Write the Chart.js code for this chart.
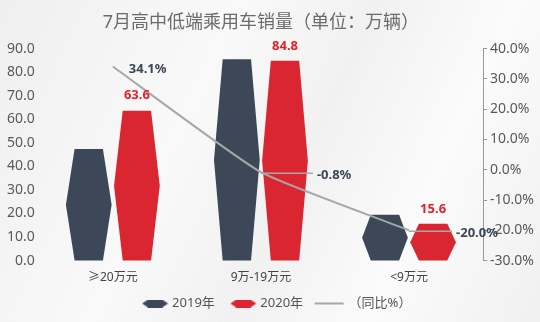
<!DOCTYPE html>
<html>
<head>
<meta charset="utf-8">
<script src="https://cdn.jsdelivr.net/npm/chart.js@4.4.1/dist/chart.umd.min.js"></script>
<style>
  html, body { margin: 0; padding: 0; }
  body {
    width: 540px;
    height: 322px;
    background: linear-gradient(115deg, #efefef 0%, #f9f9f9 35%, #f1f1f1 55%, #fbfbfb 75%, #f0f0f0 100%);
  }
  canvas { display: block; }
</style>
</head>
<body>
<canvas id="chart" width="540" height="322"></canvas>
<script>
// Sales by price band (万辆) and year-on-year change (%)
const categories = ["≥20万元", "9万-19万元", "<9万元"];
const sales2019 = [47.4, 85.5, 19.5];
const sales2020 = [63.6, 84.8, 15.6];
const yoyChange = [34.1, -0.8, -20.0];

const DARK = "#3c4757";
const RED = "#d92631";
const GREY = "#a7a7a7";

Chart.defaults.font.family = '"Noto Sans", "Noto Sans CJK SC", sans-serif';
Chart.defaults.color = "#595959";

// Hexagon path: flat top and bottom, pointed at the sides
function hexPath(ctx, left, right, top, bottom, inset) {
  const mid = (top + bottom) / 2;
  ctx.beginPath();
  ctx.moveTo(left + inset, top);
  ctx.lineTo(right - inset, top);
  ctx.lineTo(right, mid);
  ctx.lineTo(right - inset, bottom);
  ctx.lineTo(left + inset, bottom);
  ctx.lineTo(left, mid);
  ctx.closePath();
}

// Legend icons; the blank left part of each canvas spaces the items apart
function hexIcon(color) {
  const c = document.createElement("canvas");
  c.width = 46;
  c.height = 8;
  const g = c.getContext("2d");
  g.fillStyle = color;
  hexPath(g, 18, 44, 0, 8, 6);
  g.fill();
  return c;
}
function lineIcon(color) {
  const c = document.createElement("canvas");
  c.width = 46;
  c.height = 8;
  const g = c.getContext("2d");
  g.strokeStyle = color;
  g.lineWidth = 2;
  g.beginPath();
  g.moveTo(14, 4);
  g.lineTo(43, 4);
  g.stroke();
  return c;
}
const icons = [hexIcon(DARK), hexIcon(RED), lineIcon(GREY)];

// Draw bars as hexagons instead of rectangles
const hexBars = {
  id: "hexBars",
  beforeDatasetDraw(chart, args) {
    const meta = args.meta;
    if (meta.type !== "bar") return;
    const ctx = chart.ctx;
    meta.data.forEach((bar) => {
      const { x, y, base, width } = bar.getProps(["x", "y", "base", "width"], true);
      ctx.save();
      ctx.fillStyle = bar.options.backgroundColor;
      hexPath(ctx, x - width / 2, x + width / 2, y, base, width * 0.19);
      ctx.fill();
      ctx.restore();
    });
    return false;
  },
};

// Value labels: red numbers over 2020 bars, percentages on the line
const lineLabelLayout = [
  { dx: 16, leader: 0 },
  { dx: 56, leader: 52 },
  { dx: 47, leader: 43 },
];
const valueLabels = {
  id: "valueLabels",
  afterDatasetsDraw(chart) {
    const ctx = chart.ctx;
    ctx.save();

    const redMeta = chart.getDatasetMeta(1);
    ctx.font = 'bold 13px "Noto Sans", sans-serif';
    ctx.fillStyle = "#e1222b";
    ctx.textAlign = "center";
    ctx.textBaseline = "middle";
    redMeta.data.forEach((bar, i) => {
      ctx.fillText(sales2020[i].toFixed(1), bar.x, bar.y - 15);
    });

    const lineMeta = chart.getDatasetMeta(2);
    ctx.textAlign = "left";
    ctx.fillStyle = "#3d4655";
    ctx.strokeStyle = GREY;
    ctx.lineWidth = 1.5;
    lineMeta.data.forEach((pt, i) => {
      const lay = lineLabelLayout[i];
      if (lay.leader > 0) {
        ctx.beginPath();
        ctx.moveTo(pt.x, pt.y + 1);
        ctx.lineTo(pt.x + lay.leader, pt.y + 1);
        ctx.stroke();
      }
      ctx.fillText(yoyChange[i].toFixed(1) + "%", pt.x + lay.dx, pt.y + 3);
    });
    ctx.restore();
  },
};

new Chart(document.getElementById("chart"), {
  type: "bar",
  data: {
    labels: categories,
    datasets: [
      {
        label: "2019年",
        data: sales2019,
        backgroundColor: DARK,
        order: 1,
      },
      {
        label: "2020年",
        data: sales2020,
        backgroundColor: RED,
        order: 1,
      },
      {
        type: "line",
        label: "（同比%）",
        data: yoyChange,
        yAxisID: "y1",
        borderColor: GREY,
        backgroundColor: GREY,
        borderWidth: 2,
        tension: 0.15,
        pointRadius: 0,
        order: 0,
      },
    ],
  },
  options: {
    responsive: false,
    animation: false,
    categoryPercentage: 0.65,
    barPercentage: 0.95,
    layout: { padding: { left: 3, right: 3, top: 0, bottom: 2 } },
    plugins: {
      tooltip: { enabled: false },
      title: {
        display: true,
        text: "7月高中低端乘用车销量（单位：万辆）",
        fullSize: false,
        color: "#6b6b6b",
        font: { size: 18, weight: "normal" },
        padding: { top: 12, bottom: 15 },
      },
      legend: {
        position: "bottom",
        labels: {
          usePointStyle: true,
          pointStyleWidth: 37,
          padding: 2,
          color: "#555",
          font: { size: 13 },
          sort: (a, b) => a.datasetIndex - b.datasetIndex,
          generateLabels(chart) {
            const items = Chart.defaults.plugins.legend.labels.generateLabels(chart);
            items.forEach((it) => {
              it.pointStyle = icons[it.datasetIndex];
            });
            return items;
          },
        },
      },
    },
    scales: {
      x: {
        grid: { display: false, drawTicks: false },
        border: { display: false },
        ticks: { color: "#444", font: { size: 12 }, padding: 10 },
      },
      y: {
        position: "left",
        min: 0,
        max: 90,
        grid: { display: false, drawTicks: false },
        border: { display: false },
        ticks: {
          stepSize: 10,
          padding: 4,
          font: { size: 14 },
          callback: (v) => v.toFixed(1),
        },
      },
      y1: {
        position: "right",
        min: -30,
        max: 40,
        grid: {
          drawOnChartArea: false,
          drawTicks: true,
          tickLength: 4,
          color: "#9a9a9a",
        },
        border: { display: true, color: "#9a9a9a", width: 1 },
        ticks: {
          stepSize: 10,
          padding: 3,
          font: { size: 14 },
          callback: (v) => v.toFixed(1) + "%",
        },
      },
    },
  },
  plugins: [hexBars, valueLabels],
});
</script>
</body>
</html>
